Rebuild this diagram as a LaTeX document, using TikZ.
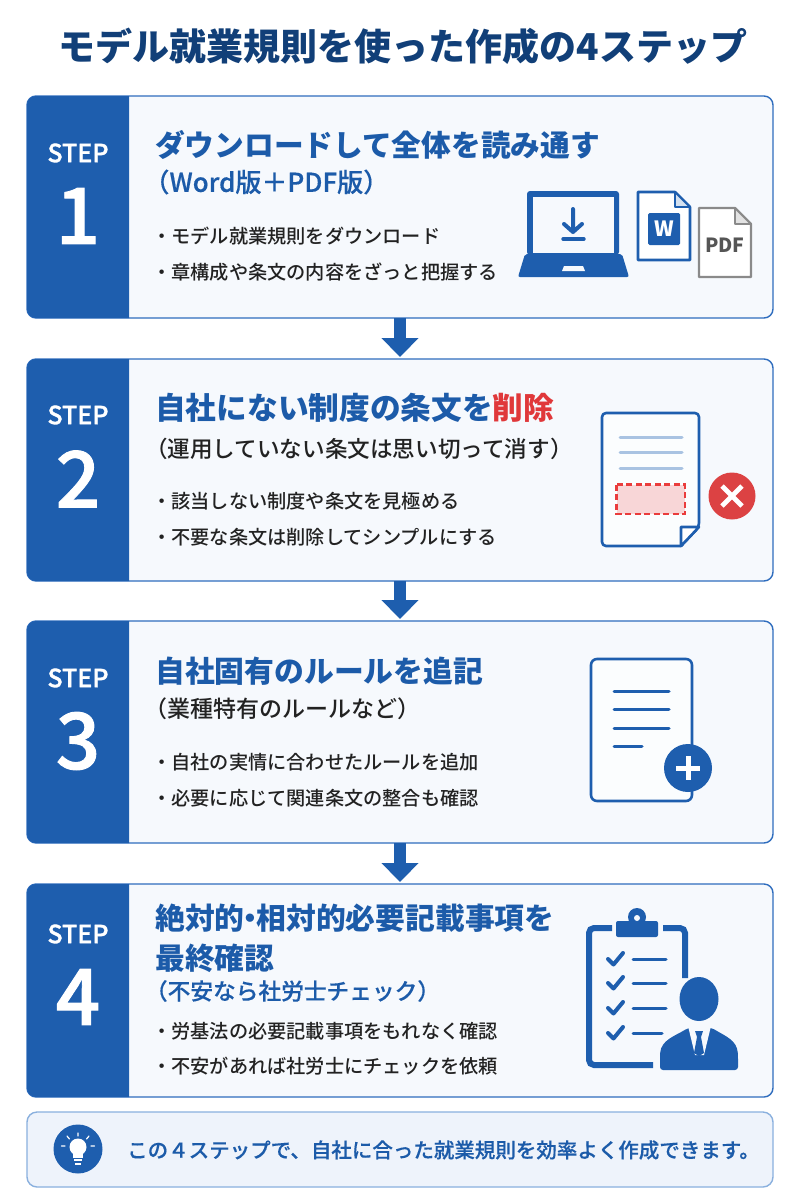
\documentclass[tikz,border=0pt]{standalone}
\usepackage{fontspec}
\setmainfont{Noto Sans CJK JP}
\newfontfamily\medfont{Noto Sans CJK JP Medium}
\newfontfamily\numfont[FakeBold=1.2]{Noto Sans CJK JP Medium}
\newfontfamily\subfont[FakeBold=0.3]{Noto Sans CJK JP Medium}
\usetikzlibrary{arrows.meta}
\definecolor{mainblue}{HTML}{1E5EAE}
\definecolor{headblue}{HTML}{1C5BA9}
\definecolor{navy}{HTML}{113F78}
\definecolor{cardfill}{HTML}{F6F9FD}
\definecolor{cardline}{HTML}{2F6DBE}
\definecolor{footfill}{HTML}{EEF3FB}
\definecolor{footline}{HTML}{8AB0DE}
\definecolor{redmark}{HTML}{DC4243}
\definecolor{redtext}{HTML}{E0383A}
\definecolor{bartext}{HTML}{222222}
\definecolor{softline}{HTML}{A9C3E2}
\definecolor{pinkfill}{HTML}{F8D6D7}
\definecolor{dashred}{HTML}{EA3C3C}
\definecolor{pdfgrey}{HTML}{8A8A8A}
\definecolor{pdftext}{HTML}{555555}
\newcommand\szf[1]{\fontsize{#1}{#1}\selectfont}
\newcommand\lb{\kern-.45em（}
\newcommand\panelbox[2]{\fill[mainblue] (129,#1) [rounded corners=9] -- (27,#1) -- (27,#2) [sharp corners] -- (129,#2) -- cycle;}
\tikzset{
  card/.style={draw=cardline,fill=cardfill,line width=1.4,rounded corners=9,minimum width=746pt,inner sep=0,outer sep=0},
  footcard/.style={draw=footline,fill=footfill,line width=1.4,rounded corners=10,minimum width=746pt,minimum height=75pt,inner sep=0,outer sep=0},
  title/.style={font=\szf{37}\bfseries,text=navy,inner sep=0},
  stepword/.style={font=\szf{25}\numfont,text=white,inner sep=0},
  stepnum/.style={font=\szf{78}\numfont,text=white,inner sep=0},
  heading/.style={anchor=west,font=\szf{#1}\bfseries,text=headblue,inner sep=0},
  subhead/.style={anchor=west,font=\szf{#1}\medfont,text=bartext,inner sep=0},
  subblue/.style={anchor=west,font=\szf{#1}\subfont,text=headblue,inner sep=0},
  bullet/.style={anchor=west,font=\szf{19.2}\medfont,text=bartext,inner sep=0},
  flow/.style={draw=mainblue,line width=12,-{Triangle[width=36pt,length=19pt,fill=mainblue]},shorten >=2pt},
  iconline/.style={draw=mainblue,line width=2.6,line cap=round,line join=round},
  softbar/.style={draw=softline,line width=3,line cap=round},
  thinbar/.style={draw=mainblue,line width=3,line cap=round},
}
\begin{document}
\begin{tikzpicture}[x=1pt,y=-1pt]
\useasboundingbox (0,0) rectangle (800,1200);
\fill[white] (0,0) rectangle (800,1200);
\node[title] (ttl) at (403,46) {モデル就業規則を使った作成の4ステップ};

% cards
\node[card,minimum height=222pt] (c1) at (400,207) {};
\node[card,minimum height=222pt] (c2) at (400,470) {};
\node[card,minimum height=222pt] (c3) at (400,732) {};
\node[card,minimum height=213pt] (c4) at (400,990.5) {};
\panelbox{96}{318}
\panelbox{359}{581}
\panelbox{621}{843}
\panelbox{884}{1097}
\draw[flow] (c1.south) -- (c2.north);
\draw[flow] (c2.south) -- (c3.north);
\draw[flow] (c3.south) -- (c4.north);

\node[stepword] (s1) at (78,153) {STEP};
\node[stepnum] (n1) at (78,216) {1};
\node[stepword] (s2) at (78,415) {STEP};
\node[stepnum] (n2) at (78,479) {2};
\node[stepword] (s3) at (78,678) {STEP};
\node[stepnum] (n3) at (78,741) {3};
\node[stepword] (s4) at (78,934) {STEP};
\node[stepnum] (n4) at (78,997) {4};

% step 1
\node[heading=29.7] (h1) at (155,145) {ダウンロードして全体を読み通す};
\node[subblue=26] (u1) at (155,182) {\lb Word版＋PDF版）};
\node[bullet] (b11) at (152,236) {・モデル就業規則をダウンロード};
\node[bullet] (b12) at (152,272) {・章構成や条文の内容をざっと把握する};
% step 2
\node[heading=30.7] (h2) at (155,408) {自社にない制度の条文を\textcolor{redtext}{削除}};
\node[subhead=22.6] (u2) at (155,449) {\lb 運用していない条文は思い切って消す）};
\node[bullet] (b21) at (152,501) {・該当しない制度や条文を見極める};
\node[bullet] (b22) at (152,537) {・不要な条文は削除してシンプルにする};
% step 3
\node[heading=29.8] (h3) at (155,671) {自社固有のルールを追記};
\node[subhead=23] (u3) at (155,709) {\lb 業種特有のルールなど）};
\node[bullet] (b31) at (152,762) {・自社の実情に合わせたルールを追加};
\node[bullet] (b32) at (152,798) {・必要に応じて関連条文の整合も確認};
% step 4
\node[heading=29.8] (h4) at (155,918) {絶対的\kern-.3em・\kern-.3em相対的必要記載事項を};
\node[heading=29.8] (h4b) at (155,958) {最終確認};
\node[subblue=22.7] (u4) at (155,991) {\lb 不安なら社労士チェック）};
\node[bullet] (b41) at (152,1031) {・労基法の必要記載事項をもれなく確認};
\node[bullet] (b42) at (152,1066) {・不安があれば社労士にチェックを依頼};

% laptop icon
\fill[mainblue,rounded corners=3] (527,255) -- (527,191) -- (619,191) -- (619,255) -- cycle;
\fill[cardfill] (533,197) rectangle (614,253);
\fill[mainblue,rounded corners=2] (525,254) -- (622,254) -- (629,277) -- (518,277) -- cycle;
\fill[mainblue] (533,253) rectangle (614,256);
\fill[cardfill] (564,266) -- (583,266) -- (585,271) -- (562,271) -- cycle;
\draw[mainblue,line width=4,line cap=round,line join=round] (573,209) -- (573,232) (564,224) -- (573,232) -- (582,224);
\draw[mainblue,line width=3.4,line cap=round] (563,239) -- (584,239);
% Word file
\draw[iconline,fill=white] (640,192) -- (675,192) -- (690,207) -- (690,260) -- (638,260) -- (638,192) -- cycle;
\draw[mainblue,line width=1.8,line join=round,fill=softline!50] (675,192) -- (675,207) -- (690,207) -- cycle;
\fill[mainblue,rounded corners=1.5] (648,213) rectangle (680,245);
\node[font=\szf{21}\bfseries,text=white,inner sep=0] (wd) at (664,229) {W};
% PDF file
\draw[draw=pdfgrey,line width=2.4,line join=round,fill=white] (699,208) -- (735,208) -- (751,224) -- (751,277) -- (699,277) -- cycle;
\draw[draw=pdfgrey,line width=1.8,line join=round,fill=pdfgrey!25] (735,208) -- (735,224) -- (751,224) -- cycle;
\node[font=\szf{19.5}\bfseries,text=pdftext,inner sep=0] (pdf) at (725,245) {PDF};

% deleted-clause icon
\draw[iconline,rounded corners=4,fill=white!60!cardfill] (681,546) -- (602,546) -- (602,413) -- (699,413) -- (699,527) [sharp corners] -- (681,546);
\draw[iconline,fill=white] (699,527) -- (681,527) -- (681,546) -- cycle;
\draw[softbar] (620,437) -- (682,437);
\draw[softbar] (620,452) -- (682,452);
\draw[softbar] (620,468) -- (682,468);
\draw[draw=dashred,fill=pinkfill,line width=2.2,dash pattern=on 6pt off 3.5pt] (616.5,484.5) rectangle (685,514);
\fill[redmark] (732,496) circle (23.5);
\draw[white,line width=4.8] (722,486) -- (742,506) (742,486) -- (722,506);

% added-clause icon
\draw[iconline,rounded corners=6,fill=white!60!cardfill] (591,659) rectangle (692,801);
\draw[thinbar] (614,691) -- (669,691);
\draw[thinbar] (614,709) -- (669,709);
\draw[thinbar] (614,728) -- (669,728);
\draw[thinbar] (614,746) -- (642,746);
\fill[mainblue] (688,768) circle (24);
\draw[white,line width=5] (676,768) -- (700,768) (688,756) -- (688,780);

% checklist icon
\draw[mainblue,line width=6,rounded corners=5] (612,928) -- (589,928) -- (589,1065) -- (653,1065);
\draw[mainblue,line width=6,rounded corners=5] (663,928) -- (685,928) -- (685,978);
\fill[mainblue] (637,917) circle (9);
\fill[mainblue,rounded corners=2] (616,921) rectangle (658,937);
\fill[cardfill] (637,918) circle (3);
\foreach \yy/\xe in {959/666,983/666,1008/666,1033/662}{
  \draw[mainblue,line width=4,line cap=round,line join=round] (608,\yy) -- (613.5,\yy+5.5) -- (623,\yy-6);
  \draw[thinbar] (633,\yy) -- (\xe,\yy);
}
% person
\fill[mainblue] (699,999) ellipse (19.5 and 22);
\fill[mainblue,rounded corners=3] (660,1070) -- (660,1056) .. controls (661,1040) and (675,1036) .. (688,1028) -- (712,1028) .. controls (725,1036) and (737,1040) .. (738,1056) -- (738,1070) -- cycle;
\fill[cardfill] (688,1026) -- (695,1055) -- (704,1055) -- (711,1026) -- cycle;
\fill[mainblue] (695,1031) -- (703,1031) -- (701,1037) -- (704,1053) -- (699,1056) -- (694,1053) -- (697,1037) -- cycle;

% footer
\node[footcard] (ft) at (400,1149.5) {};
\fill[mainblue] (78,1149) circle (24.5);
\fill[white] (78,1147) circle (8.5);
\fill[white] (73,1151) rectangle (83,1158);
\fill[white] (74,1159) rectangle (82,1161);
\fill[white] (75,1162.5) rectangle (81,1164.5);
\draw[white,line width=1.2,line cap=round] (78,1133) -- (78,1136) (67,1136) -- (69.5,1139) (89,1136) -- (86.5,1139) (65,1146) -- (61.5,1146) (91,1146) -- (94.5,1146);
\node[anchor=west,font=\szf{20.5}\subfont,text=headblue,inner sep=0] (ftx) at (127,1150) {この４ステップで、自社に合った就業規則を効率よく作成できます。};
\end{tikzpicture}
\end{document}
